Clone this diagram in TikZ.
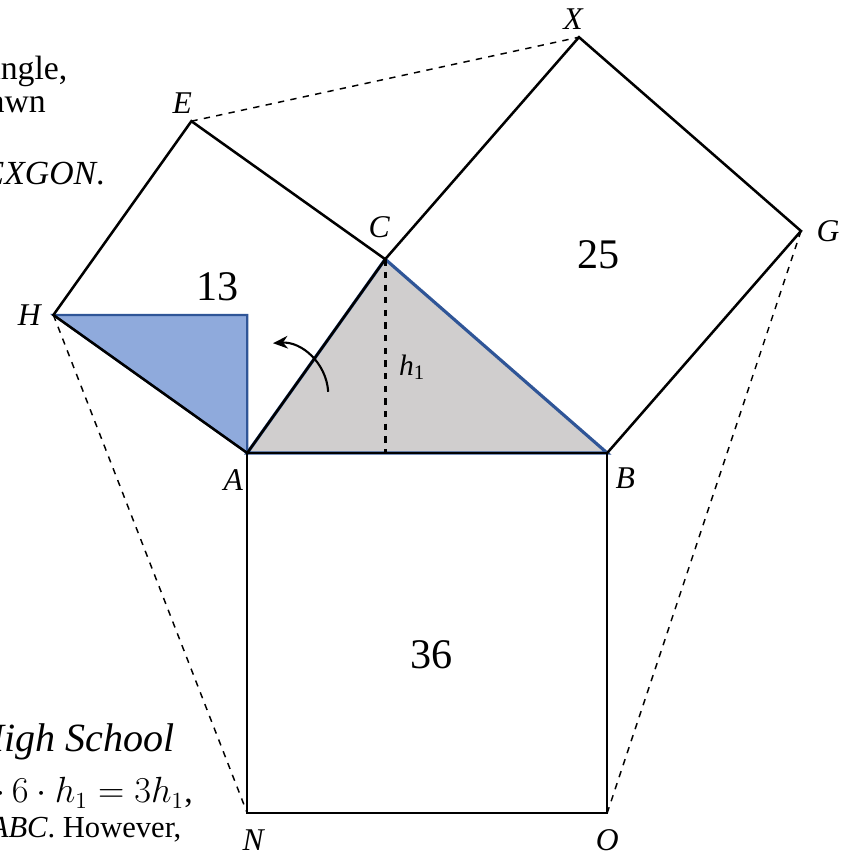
\documentclass[tikz,border=0pt]{standalone}
\usepackage{fontspec}
\setmainfont{Liberation Serif}
\usetikzlibrary{calc,arrows.meta}

\definecolor{triblue}{HTML}{8FAADC}
\definecolor{edgeblue}{HTML}{2F5597}
\definecolor{trigray}{HTML}{D0CECE}

\tikzset{
  sq/.style={line width=1.2pt, line join=miter},
  aux/.style={dashed, line width=0.7pt},
  lbl/.style={font=\fontsize{15}{18}\selectfont\itshape, inner sep=0pt},
  area/.style={font=\fontsize{20}{24}\selectfont, inner sep=0pt},
  txt/.style={font=\fontsize{16}{19}\selectfont, anchor=base east, inner sep=0pt},
}

\begin{document}
\begin{tikzpicture}[>={Stealth[length=7pt,width=6pt]}]
        \useasboundingbox (0,0) rectangle (14.25,14.25);

        % --- 1. Define Core Parameters ---
        \def\side{6}
        \def\cx{2.3}
        \def\cy{3.23}

        % --- 2. Define Coordinates ---
        \coordinate (A) at (4.12,6.70);
        \coordinate (B) at ($(A)+(\side,0)$);
        \coordinate (C) at ($(A)+(\cx,\cy)$);
        \coordinate (N) at ($(A)+(0,-\side)$);
        \coordinate (O) at ($(B)+(0,-\side)$);
        \coordinate (H) at ($(A)!1!90:(C)$);
        \coordinate (E) at ($(C)!1!-90:(A)$);
        \coordinate (X) at ($(C)!1!90:(B)$);
        \coordinate (G) at ($(B)!1!-90:(C)$);

        % Foot of the height and turned copy of it
        \coordinate (D) at (C |- A);
        \coordinate (Hp) at (A |- H);

        % --- 3. Shaded Triangles ---
        \filldraw[fill=trigray, draw=edgeblue, line width=1.5pt] (A) -- (B) -- (C) -- cycle;
        \filldraw[fill=triblue, draw=edgeblue, line width=1pt] (H) -- (Hp) -- (A) -- cycle;

        % --- 4. The Squares ---
        \draw[sq] (A) -- (B) -- (O) -- (N) -- cycle;
        \draw[sq] (A) -- (C) -- (E) -- (H) -- cycle;
        \draw[sq] (C) -- (X) -- (G) -- (B);

        % --- 5. Dashed Lines ---
        \draw[aux] (H) -- (N);
        \draw[aux] (E) -- (X);
        \draw[aux] (G) -- (O);
        \draw[dashed, line width=1.3pt] (C) -- (D);

        % Turning arrow
        \coordinate (R1) at ($(A)+(1.35,1.02)$);
        \coordinate (R2) at ($(A)+(0.43,1.83)$);
        \draw[->, line width=1pt] (R1) to[bend right=45] (R2);

        % --- 6. Labels ---
        \node[lbl] (lX) at ($(X)+(-0.1,0.3)$) {X};
        \node[lbl] (lE) at ($(E)+(-0.15,0.3)$) {E};
        \node[lbl] (lC) at ($(C)+(-0.1,0.53)$) {C};
        \node[lbl] (lG) at ($(G)+(0.45,0)$) {G};
        \node[lbl] (lH) at ($(H)+(-0.4,0)$) {H};
        \node[lbl] (lA) at ($(A)+(-0.23,-0.45)$) {A};
        \node[lbl] (lB) at ($(B)+(0.3,-0.42)$) {B};
        \node[lbl] (lN) at ($(N)+(0.1,-0.45)$) {N};
        \node[lbl] (lO) at ($(O)+(0,-0.45)$) {O};
        \node[lbl, font=\fontsize{14}{17}\selectfont\itshape] (lh) at ($(D)+(0.45,1.43)$) {h\textsubscript{\upshape 1}};

        \node[area] (a13) at ($(A)+(-0.5,2.77)$) {13};
        \node[area] (a25) at ($(B)+(-0.15,3.3)$) {25};
        \node[area] (a36) at ($(A)+(3.07,-3.37)$) {36};

        % Text cut off at the left edge
        \node[txt] (t1) at (1.13,12.92) {angle,};
        \node[txt] (t2) at (0.77,12.38) {awn};
        \node[txt] (t3) at (1.75,11.17) {\textit{EXGON}.};
        \node[txt, font=\fontsize{19}{23}\selectfont\itshape] (t4) at (2.92,1.72) {High School};
        \node[txt] (t5) at (3.22,0.87) {$\cdot\, 6 \cdot h_1 = 3h_1$,};
        \node[txt, font=\fontsize{14.5}{17}\selectfont] (t6) at (3.03,0.30) {\textit{ABC}. However,};

\end{tikzpicture}
\end{document}
